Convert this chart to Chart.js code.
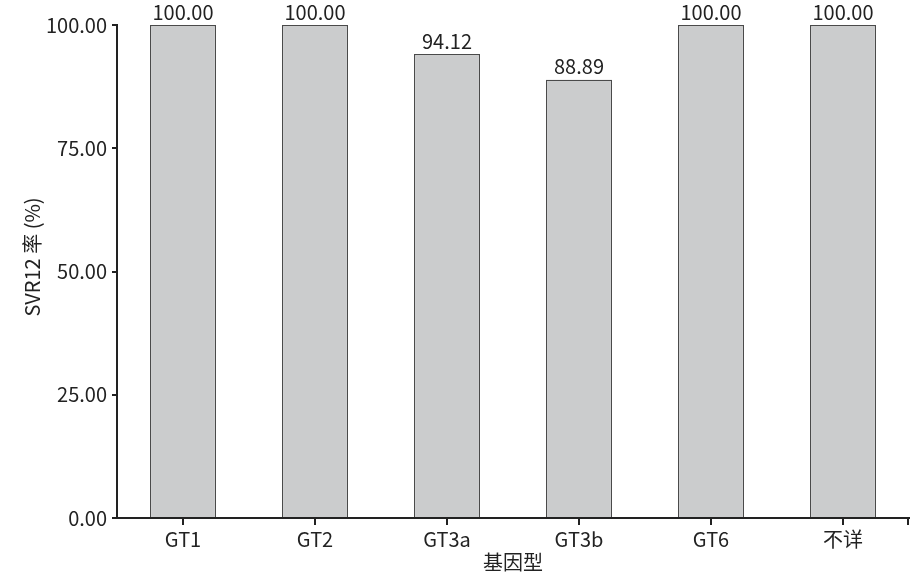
<!DOCTYPE html>
<html>
<head>
<meta charset="utf-8">
<script src="https://cdn.jsdelivr.net/npm/chart.js@4/dist/chart.umd.min.js"></script>
<style>
  html, body { margin: 0; padding: 0; background: #fff; }
  #wrap { width: 922px; height: 574px; }
</style>
</head>
<body>
<div id="wrap"><canvas id="svrChart" width="922" height="574"></canvas></div>
<script>
// genotype categories and SVR12 rates
const genotypes = ['GT1', 'GT2', 'GT3a', 'GT3b', 'GT6', '不详'];
const svr12 = [100.00, 100.00, 94.12, 88.89, 100.00, 100.00];
const yTicks = [0, 25, 50, 75, 100];
const yTitle = 'SVR12 率 (%)';

const FONT = '"Noto Sans CJK SC", "Noto Sans", sans-serif';
const INK = '#222222';

// value labels above bars, y title, and the closing tick at right end of x axis
const extras = {
  id: 'extras',
  afterDatasetsDraw(chart) {
    const ctx = chart.ctx;
    const meta = chart.getDatasetMeta(0);
    ctx.save();
    ctx.fillStyle = INK;
    ctx.font = '20px ' + FONT;
    ctx.textAlign = 'center';
    ctx.textBaseline = 'bottom';
    meta.data.forEach((bar, i) => {
      ctx.fillText(svr12[i].toFixed(2), bar.x, bar.y - 3);
    });

    // rotated y title
    ctx.save();
    ctx.translate(32, 257);
    ctx.rotate(-Math.PI / 2);
    ctx.textBaseline = 'middle';
    ctx.fillText(yTitle, 0, 0);
    ctx.restore();

    const area = chart.chartArea;
    ctx.strokeStyle = INK;
    ctx.lineWidth = 2;
    ctx.beginPath();
    ctx.moveTo(area.right - 1, area.bottom);
    ctx.lineTo(area.right - 1, area.bottom + 7);
    ctx.stroke();
    ctx.restore();
  }
};

new Chart(document.getElementById('svrChart'), {
  type: 'bar',
  data: {
    labels: genotypes,
    datasets: [{
      data: svr12,
      backgroundColor: '#cbcccd',
      borderColor: '#4a4a4a',
      borderWidth: 1.2,
      barPercentage: 0.5,
      categoryPercentage: 1
    }]
  },
  options: {
    responsive: false,
    animation: false,
    layout: { padding: { top: 25, right: 13, left: 0, bottom: 0 } },
    plugins: { legend: { display: false }, tooltip: { enabled: false } },
    scales: {
      x: {
        offset: true,
        grid: { offset: false, drawOnChartArea: false, tickLength: 7, color: INK, lineWidth: 2 },
        border: { display: true, color: INK, width: 2 },
        ticks: { color: INK, font: { family: FONT, size: 20 }, padding: 2, maxRotation: 0 },
        title: { display: true, text: '基因型', color: INK, font: { family: FONT, size: 20 }, padding: { top: 0, bottom: 0 } },
        afterFit(scale) { scale.height = 56; }
      },
      y: {
        min: 0,
        max: 100,
        afterBuildTicks(scale) { scale.ticks = yTicks.map(v => ({ value: v })); },
        grid: { drawOnChartArea: false, tickLength: 5, color: INK, lineWidth: 2 },
        border: { display: true, color: INK, width: 2 },
        ticks: {
          color: INK,
          font: { family: FONT, size: 20 },
          padding: 5,
          callback: v => Number(v).toFixed(2)
        },
        afterFit(scale) { scale.width = 117; }
      }
    }
  },
  plugins: [extras]
});
</script>
</body>
</html>
